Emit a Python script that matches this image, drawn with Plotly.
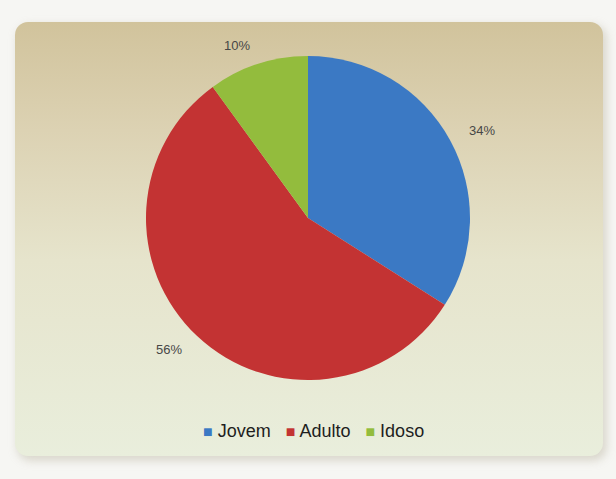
import base64
import math
import plotly.graph_objects as go

# Age-group distribution
categories = ["Jovem", "Adulto", "Idoso"]
shares = [34, 56, 10]
slice_colors = ["#3b79c4", "#c33333", "#93bc3d"]

W, H = 616, 479
CX, CY, R = 308, 218, 162          # pie centre and radius, in pixels
LABEL_R = 181                      # radius where the outside labels are anchored
FONT = "Liberation Sans, Arial, sans-serif"

# Rounded panel with a vertical tan-to-cream gradient and a soft drop shadow
panel_svg = f"""<svg xmlns="http://www.w3.org/2000/svg" width="{W}" height="{H}" viewBox="0 0 {W} {H}">
<defs>
<linearGradient id="g" x1="0" y1="0" x2="0" y2="1">
<stop offset="0" stop-color="#d1c39c"/>
<stop offset="0.25" stop-color="#dcd2b3"/>
<stop offset="0.55" stop-color="#e6e4cc"/>
<stop offset="1" stop-color="#e9eedc"/>
</linearGradient>
<filter id="s" x="-5%" y="-5%" width="110%" height="110%"><feGaussianBlur stdDeviation="4"/></filter>
</defs>
<rect width="{W}" height="{H}" fill="#f6f6f3"/>
<rect x="17" y="25" width="590" height="436" rx="14" fill="#cfcbbd" opacity="0.7" filter="url(#s)"/>
<rect x="15" y="22" width="588" height="434" rx="13" fill="url(#g)"/>
</svg>"""
panel_uri = "data:image/svg+xml;base64," + base64.b64encode(panel_svg.encode()).decode()

fig = go.Figure(
    go.Pie(
        labels=categories,
        values=shares,
        sort=False,
        direction="clockwise",
        rotation=0,
        marker=dict(colors=slice_colors, line=dict(width=0)),
        textinfo="none",
        hoverinfo="label+percent",
        showlegend=False,
        domain=dict(x=[(CX - R) / W, (CX + R) / W], y=[(H - CY - R) / H, (H - CY + R) / H]),
    )
)

# Percentage labels just outside each slice, at the middle of its arc
total = sum(shares)
annotations = []
cum = 0
for v in shares:
    mid = (cum + v / 2) / total * 2 * math.pi      # clockwise from 12 o'clock
    cum += v
    dx, dy = math.sin(mid), math.cos(mid)
    px = CX + LABEL_R * dx
    py = CY - LABEL_R * dy
    annotations.append(
        dict(
            text=f"{v}%",
            x=px / W,
            y=(H - py) / H,
            xref="paper",
            yref="paper",
            xanchor="left" if dx >= 0 else "right",
            yanchor="middle",
            showarrow=False,
            font=dict(family=FONT, size=13, color="#474747"),
        )
    )

# Legend row: a small coloured square before each category name
legend_parts = [
    f'<span style="font-size:16px;color:{c}">■</span> {name}'
    for name, c in zip(categories, slice_colors)
]
annotations.append(
    dict(
        text="&nbsp;&nbsp;&nbsp;".join(legend_parts),
        x=313 / W,
        y=(H - 431) / H,
        xref="paper",
        yref="paper",
        xanchor="center",
        yanchor="middle",
        showarrow=False,
        font=dict(family=FONT, size=18, color="#1e1e1e"),
    )
)

fig.update_layout(
    width=W,
    height=H,
    margin=dict(l=0, r=0, t=0, b=0),
    paper_bgcolor="rgba(0,0,0,0)",
    plot_bgcolor="rgba(0,0,0,0)",
    images=[
        dict(
            source=panel_uri,
            xref="paper",
            yref="paper",
            x=0,
            y=1,
            sizex=1,
            sizey=1,
            xanchor="left",
            yanchor="top",
            sizing="stretch",
            layer="below",
        )
    ],
    annotations=annotations,
)

fig.write_html("out.html")
